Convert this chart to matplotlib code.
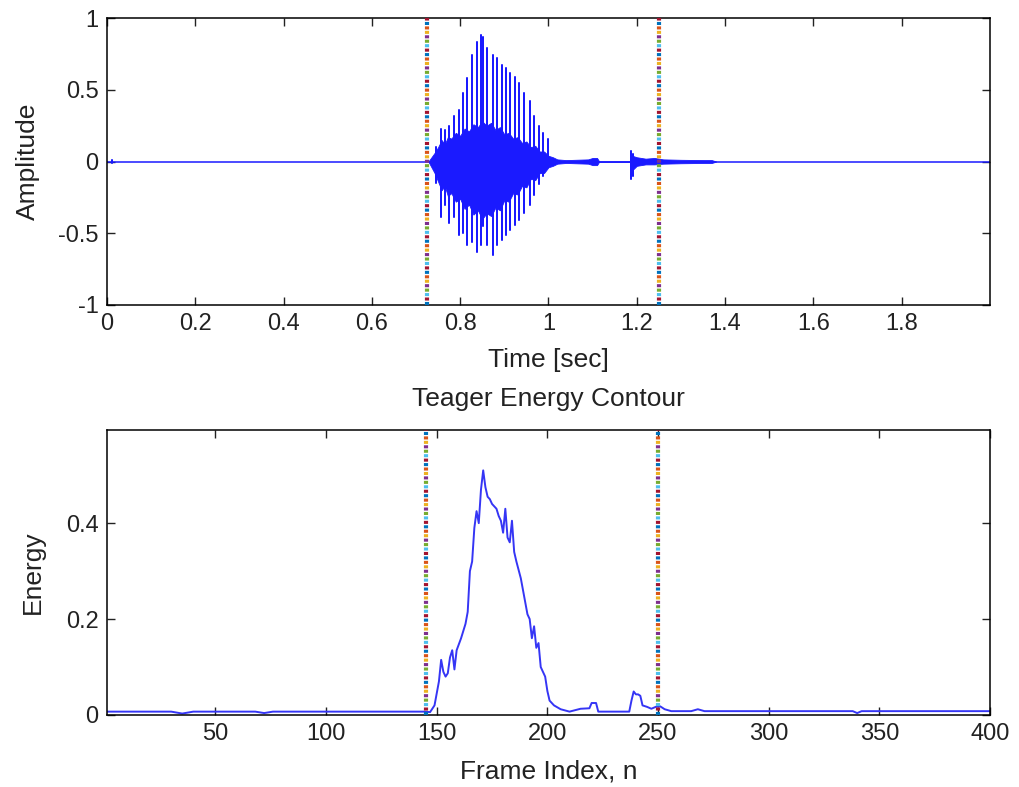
import numpy as np
import matplotlib
matplotlib.use("Agg")
import matplotlib.pyplot as plt

plt.rcParams['font.family'] = ['Liberation Sans', 'DejaVu Sans']
plt.rcParams['lines.scale_dashes'] = False

# pitch pulses of the voiced part (time [s], positive peak, negative peak)
spike_t = [0.012, 0.745, 0.756, 0.766, 0.775, 0.786, 0.798, 0.807, 0.816, 0.826,
           0.837, 0.847, 0.852, 0.860, 0.874, 0.883, 0.894, 0.904, 0.913, 0.924,
           0.934, 0.945, 0.958, 0.968, 0.979, 0.988, 1.000, 1.188, 1.191]
spike_hi = [0.01, 0.10, 0.23, 0.22, 0.25, 0.32, 0.36, 0.48, 0.58, 0.74,
            0.83, 0.88, 0.87, 0.79, 0.74, 0.72, 0.67, 0.65, 0.62, 0.59,
            0.55, 0.48, 0.42, 0.32, 0.25, 0.20, 0.16, 0.07, 0.05]
spike_lo = [-0.01, -0.15, -0.385, -0.30, -0.43, -0.39, -0.51, -0.50, -0.58, -0.56,
            -0.63, -0.58, -0.45, -0.58, -0.65, -0.58, -0.55, -0.51, -0.48, -0.44,
            -0.41, -0.36, -0.30, -0.23, -0.16, -0.10, -0.04, -0.12, -0.10]

# envelope of the dense oscillation between pulses
body_t = [0.728, 0.735, 0.742, 0.750, 0.758, 0.765, 0.772, 0.780, 0.790, 0.800,
          0.810, 0.820, 0.830, 0.840, 0.850, 0.860, 0.870, 0.880, 0.890, 0.900,
          0.910, 0.920, 0.930, 0.940, 0.950, 0.960, 0.970, 0.980, 0.990, 1.000,
          1.010, 1.020, 1.040, 1.060, 1.090, 1.100, 1.110, 1.115, 1.185, 1.190,
          1.200, 1.220, 1.240, 1.260, 1.300, 1.350, 1.370, 1.380]
body_hi = [0.0, 0.03, 0.06, 0.10, 0.15, 0.12, 0.17, 0.16, 0.20, 0.18,
           0.23, 0.21, 0.26, 0.24, 0.28, 0.25, 0.27, 0.22, 0.24, 0.19,
           0.20, 0.16, 0.17, 0.13, 0.14, 0.10, 0.11, 0.07, 0.07, 0.04,
           0.03, 0.015, 0.01, 0.012, 0.015, 0.025, 0.025, 0.0, 0.0, 0.04,
           0.03, 0.02, 0.025, 0.015, 0.012, 0.01, 0.01, 0.0]
body_lo = [0.0, -0.04, -0.08, -0.14, -0.20, -0.17, -0.24, -0.22, -0.28, -0.26,
           -0.33, -0.30, -0.37, -0.34, -0.40, -0.36, -0.38, -0.32, -0.34, -0.27,
           -0.28, -0.22, -0.23, -0.17, -0.18, -0.12, -0.13, -0.08, -0.08, -0.04,
           -0.03, -0.015, -0.01, -0.012, -0.015, -0.025, -0.025, 0.0, 0.0, -0.06,
           -0.03, -0.02, -0.02, -0.015, -0.012, -0.01, -0.01, 0.0]

# Teager energy contour (frame index, energy)
frame_n = [1, 30, 35, 40, 68, 72, 76, 144, 147, 149, 151, 152, 153, 154, 155, 156, 157,
           158, 159, 161, 163, 164, 165, 166, 167, 168, 169, 170, 171, 172, 173, 174,
           175, 176, 177, 178, 179, 180, 181, 182, 183, 184, 185, 186, 188, 190, 191,
           192, 193, 194, 195, 196, 197, 198, 199, 200, 201, 203, 206, 210, 215, 219,
           220, 222, 223, 237, 238, 239, 240, 241, 242, 243, 245, 247, 249, 251, 253,
           256, 265, 268, 271, 338, 340, 342, 400]
energy = [0.007, 0.007, 0.003, 0.007, 0.007, 0.004, 0.007, 0.007, 0.006, 0.02, 0.07,
          0.115, 0.09, 0.08, 0.087, 0.12, 0.135, 0.095, 0.135, 0.16, 0.19, 0.215,
          0.30, 0.32, 0.39, 0.425, 0.40, 0.47, 0.51, 0.475, 0.455, 0.45, 0.44, 0.435,
          0.43, 0.415, 0.405, 0.38, 0.43, 0.37, 0.36, 0.405, 0.34, 0.32, 0.285, 0.235,
          0.21, 0.20, 0.16, 0.185, 0.14, 0.15, 0.10, 0.09, 0.08, 0.05, 0.03, 0.02,
          0.012, 0.007, 0.013, 0.014, 0.025, 0.025, 0.007, 0.007, 0.03, 0.049, 0.043,
          0.043, 0.04, 0.02, 0.017, 0.013, 0.017, 0.018, 0.012, 0.008, 0.008, 0.012,
          0.008, 0.008, 0.004, 0.008, 0.008]

# detected endpoints
start_time, end_time = 0.725, 1.25
start_frame, end_frame = 145, 250

matlab_colors = ['#0072bd', '#d95319', '#edb120', '#7e2f8e', '#77ac30', '#4dbeee', '#a2142f']


def endpoint_line(ax, x):
    # multi-coloured dotted marker like the original overlaid plots
    step = 3.2
    for k, c in enumerate(matlab_colors):
        ax.axvline(x, color=c, lw=3.0, zorder=3,
                   linestyle=(k * step, (2.2, step * len(matlab_colors) - 2.2)))


def style_axes(ax):
    ax.tick_params(direction='in', length=6, width=1.0, top=True, right=True,
                   labelsize=17, pad=6, colors='#222222')
    for s in ax.spines.values():
        s.set_linewidth(1.1)


fig = plt.figure(figsize=(10.19, 7.87), dpi=100)
ax1 = fig.add_axes([0.105, 0.6125, 0.8665, 0.3645])
ax2 = fig.add_axes([0.105, 0.0915, 0.8665, 0.362])

# --- waveform ---
wave_t = [0.0]
wave_y = [0.0]
for t, hi, lo in zip(spike_t, spike_hi, spike_lo):
    wave_t += [t, t, t, t]
    wave_y += [0.0, hi, lo, 0.0]
wave_t.append(2.0)
wave_y.append(0.0)

ax1.fill_between(body_t, body_lo, body_hi, color='#1a1aff', lw=0.6)
ax1.plot(wave_t, wave_y, color='#1a1aff', lw=1.1)
endpoint_line(ax1, start_time)
endpoint_line(ax1, end_time)
ax1.set_xlim(0, 2)
ax1.set_ylim(-1, 1)
ax1.set_xticks(np.arange(0, 1.81, 0.2))
ax1.set_xticklabels(['0', '0.2', '0.4', '0.6', '0.8', '1', '1.2', '1.4', '1.6', '1.8'])
ax1.set_yticks([-1, -0.5, 0, 0.5, 1])
ax1.set_yticklabels(['-1', '-0.5', '0', '0.5', '1'])
ax1.set_xlabel('Time [sec]', fontsize=19, color='#222222', labelpad=9)
ax1.set_ylabel('Amplitude', fontsize=19, color='#222222', labelpad=13)
style_axes(ax1)

# --- energy contour ---
ax2.plot(frame_n, energy, color='#3535f5', lw=1.4)
endpoint_line(ax2, start_frame)
endpoint_line(ax2, end_frame)
ax2.set_xlim(1, 400)
ax2.set_ylim(0, 0.594)
ax2.set_xticks(np.arange(50, 401, 50))
ax2.set_yticks([0, 0.2, 0.4])
ax2.set_yticklabels(['0', '0.2', '0.4'])
ax2.set_xlabel('Frame Index, n', fontsize=19, color='#222222', labelpad=10)
ax2.set_ylabel('Energy', fontsize=19, color='#222222', labelpad=15)
ax2.set_title('Teager Energy Contour', fontsize=19, color='#222222', pad=17)
style_axes(ax2)

fig.savefig('out.png', dpi=100)
